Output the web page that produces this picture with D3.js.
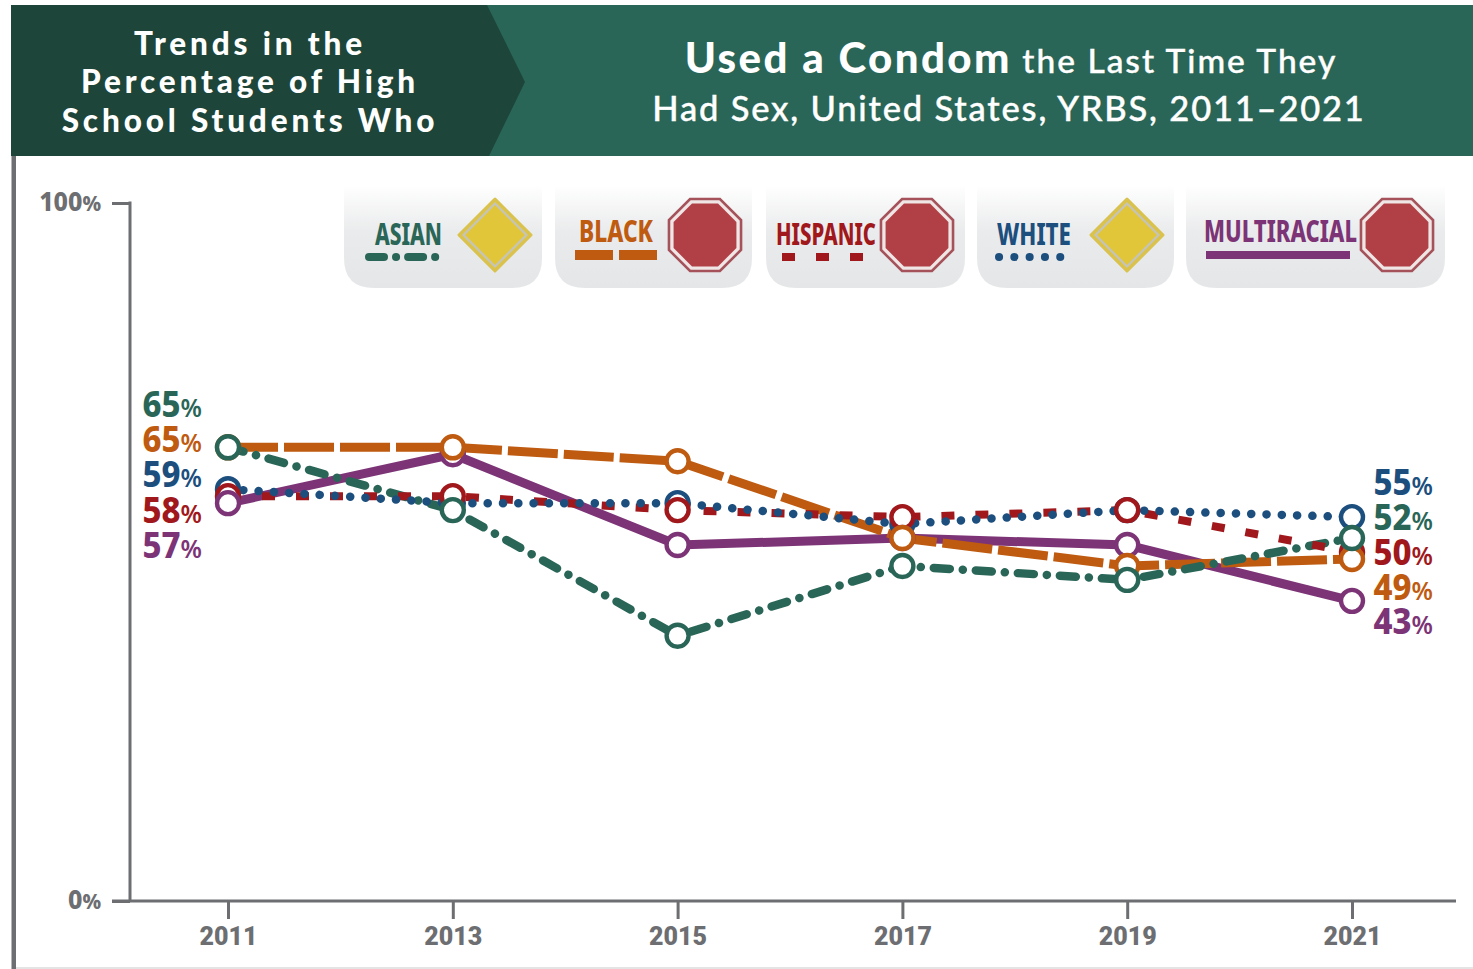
<!DOCTYPE html>
<html><head><meta charset="utf-8">
<script src="https://cdn.jsdelivr.net/npm/d3@7"></script>
<style>html,body{margin:0;padding:0;background:#fff;overflow:hidden}svg{display:block}</style>
</head><body><svg id="c" width="1473" height="969"></svg>
<script>
const years = [2011, 2013, 2015, 2017, 2019, 2021];
const asian = [65, 56, 38, 48, 46, 52];
const black = [65, 65, 63, 52, 48, 49];
const hispanic = [58, 58, 56, 55, 56, 50];
const white = [59, 57, 57, 54, 56, 55];
const multiracial = [57, 64, 51, 52, 51, 43];
const seriesNames = ["WHITE", "HISPANIC", "MULTIRACIAL", "BLACK", "ASIAN"];
const seriesValues = [white, hispanic, multiracial, black, asian];
const legendNames = ["ASIAN", "BLACK", "HISPANIC", "WHITE", "MULTIRACIAL"];
const legendSigns = ["diamond", "stop", "stop", "diamond", "stop"];
const leftOrder = ["ASIAN", "BLACK", "WHITE", "HISPANIC", "MULTIRACIAL"];
const rightOrder = ["WHITE", "ASIAN", "HISPANIC", "BLACK", "MULTIRACIAL"];

const color = {ASIAN:"#2a6657", BLACK:"#bf5b10", HISPANIC:"#a0181c", WHITE:"#1c4f7e", MULTIRACIAL:"#7c3476"};
const style = {
  ASIAN:{dash:"16 13 0.1 13",cap:"round",w:8.5},
  BLACK:{dash:"50 6",cap:"butt",w:9},
  HISPANIC:{dash:"13 21",cap:"butt",w:8},
  WHITE:{dash:"0.1 15.2",cap:"round",w:8.5},
  MULTIRACIAL:{dash:null,cap:"butt",w:9}
};
const gray = "#6d6e71";
const sans = "'Noto Sans','Open Sans',sans-serif";
const svg = d3.select("#c");
const defs = svg.append("defs");
const grad = defs.append("linearGradient").attr("id","panel").attr("x1",0).attr("x2",0).attr("y1",0).attr("y2",1);
grad.append("stop").attr("offset",0).attr("stop-color","#ffffff");
grad.append("stop").attr("offset",.45).attr("stop-color","#eaebec");
grad.append("stop").attr("offset",1).attr("stop-color","#e5e6e7");

// header
svg.append("rect").attr("x",11).attr("y",5).attr("width",1462).attr("height",151).attr("fill","#2a6657");
svg.append("path").attr("d","M11,5H487L525,82L489,156H11Z").attr("fill","#1d4539");
const hl = svg.append("g").attr("fill","#fff").attr("font-family","Lato,sans-serif").attr("font-weight",900).attr("text-anchor","middle").attr("font-size",31.5).attr("letter-spacing",3.85);
["Trends in the","Percentage of High","School Students Who"].forEach((t,i)=>hl.append("text").attr("x",250).attr("y",[55,93,132][i]).text(t));
const t1 = svg.append("text").attr("x",1011).attr("y",73).attr("text-anchor","middle").attr("fill","#fff").attr("font-family","Lato,sans-serif").attr("letter-spacing",2);
t1.append("tspan").attr("font-size",42).attr("font-weight",900).attr("letter-spacing",2.4).text("Used a Condom");
t1.append("tspan").attr("font-size",33.5).attr("font-weight",500).attr("stroke","#fff").attr("stroke-width",.4).text(" the Last Time They");
svg.append("text").attr("x",1009).attr("y",121).attr("text-anchor","middle").attr("fill","#fff").attr("stroke","#fff").attr("stroke-width",.4).attr("font-family","Lato,sans-serif").attr("font-size",34.5).attr("font-weight",500).attr("letter-spacing",1.8).text("Had Sex, United States, YRBS, 2011\u20132021");

// frame
svg.append("rect").attr("x",11.5).attr("y",156).attr("width",4.5).attr("height",813).attr("fill",gray);
svg.append("rect").attr("x",16).attr("y",967).attr("width",1457).attr("height",2).attr("fill","#e4e4e4");

// scales
const x = d3.scaleLinear().domain([2011,2021]).range([228,1352]);
const y = d3.scaleLinear().domain([0,100]).range([901,203]);

// axes
const gx = svg.append("g").attr("transform",`translate(0,${y(0)})`)
  .call(d3.axisBottom(x).tickValues(years).tickFormat(d3.format("d")).tickSize(18).tickSizeOuter(0));
gx.select(".domain").remove();
gx.selectAll("line").attr("stroke",gray).attr("stroke-width",3);
gx.selectAll("text").attr("fill",gray).attr("font-family","Roboto,sans-serif").attr("font-weight",900).attr("font-size",25).attr("dy",0).attr("y",44);
const gy = svg.append("g").attr("transform","translate(130,0)")
  .call(d3.axisLeft(y).tickValues([0,100]).tickFormat("").tickSize(18).tickSizeOuter(0));
gy.select(".domain").attr("d",`M0,${y(100)-1.5}V${y(0)}`).attr("stroke",gray).attr("stroke-width",3).attr("fill","none");
gy.selectAll("line").attr("stroke",gray).attr("stroke-width",3);
svg.append("line").attr("x1",112).attr("x2",1456).attr("y1",y(0)).attr("y2",y(0)).attr("stroke",gray).attr("stroke-width",3);
[[100,"100"],[0,"0"]].forEach(([v,s])=>{
  const t = svg.append("text").attr("transform",`translate(101,${y(v)+8}) scale(.96,1)`).attr("text-anchor","end").attr("fill",gray).attr("font-family",sans).attr("font-weight",800);
  t.append("tspan").attr("font-size",26).text(s);
  t.append("tspan").attr("font-size",21).text("%");
});

// legend
const panels = {ASIAN:[344,542],BLACK:[555,752],HISPANIC:[766,965],WHITE:[977,1174],MULTIRACIAL:[1186,1445]};
const signX = {ASIAN:495,BLACK:705,HISPANIC:917,WHITE:1127,MULTIRACIAL:1397};
const labelLayout = {ASIAN:[375,442,245],BLACK:[579,653,242],HISPANIC:[776,876,245],WHITE:[997,1071,245],MULTIRACIAL:[1204,1357,242]};
const keyLayout = {ASIAN:[369,442,"15 12 .1 12"],BLACK:[575,659,"38 6"],HISPANIC:[782,866,"13 21"],WHITE:[999,1064,".1 15.2"],MULTIRACIAL:[1206,1350,null]};
legendNames.forEach((n,i)=>{
  const [a,b] = panels[n], yt = 185, yb = 288, r = 30;
  svg.append("path").attr("d",`M${a},${yt}H${b}V${yb-r}Q${b},${yb} ${b-r},${yb}H${a+r}Q${a},${yb} ${a},${yb-r}Z`).attr("fill","url(#panel)");
  const [lx,rx,by] = labelLayout[n];
  svg.append("text").attr("x",lx).attr("y",by).attr("fill",color[n]).attr("font-family",sans).attr("font-weight",800).attr("font-size",31)
    .attr("textLength",rx-lx).attr("lengthAdjust","spacingAndGlyphs").text(n);
  const [k1,k2,kd] = keyLayout[n];
  const ky = n==="BLACK"||n==="MULTIRACIAL"?255:257;
  svg.append("line").attr("x1",k1).attr("x2",k2).attr("y1",ky).attr("y2",ky)
    .attr("stroke",color[n]).attr("stroke-width",n==="BLACK"?10:8)
    .attr("stroke-linecap",style[n].cap).attr("stroke-dasharray",kd);
  const cx = signX[n], cy = 235;
  if (legendSigns[i]==="diamond") {
    const pts = R=>`${cx},${cy-R} ${cx+R},${cy} ${cx},${cy+R} ${cx-R},${cy}`;
    svg.append("polygon").attr("points",pts(36)).attr("fill","#e2c63a").attr("stroke","#d9c24e").attr("stroke-width",3).attr("stroke-linejoin","round");
    svg.append("polygon").attr("points",pts(31.5)).attr("fill","#e2c63a").attr("stroke","#c4c4bc").attr("stroke-width",2.2);
  } else {
    const pts = R=>d3.range(8).map(k=>{const ang=Math.PI/8+k*Math.PI/4;return [cx+R*Math.cos(ang),cy+R*Math.sin(ang)].join(",");}).join(" ");
    svg.append("polygon").attr("points",pts(39)).attr("fill","#f0e6e6").attr("stroke","#a5525a").attr("stroke-width",2.6);
    svg.append("polygon").attr("points",pts(34)).attr("fill","#b04046");
  }
});

// lines
const line = d3.line().x((d,i)=>x(years[i])).y(d=>y(d));
const drawOrder = ["MULTIRACIAL","BLACK","ASIAN","HISPANIC","WHITE"];
drawOrder.forEach(n=>{
  const s = style[n];
  svg.append("path").datum(seriesValues[seriesNames.indexOf(n)]).attr("d",line).attr("fill","none")
    .attr("stroke",color[n]).attr("stroke-width",s.w).attr("stroke-linecap",s.cap).attr("stroke-dasharray",s.dash);
});
seriesNames.forEach((n,j)=>{
  svg.append("g").selectAll("circle").data(seriesValues[j]).join("circle")
    .attr("cx",(d,i)=>x(years[i])).attr("cy",d=>y(d)).attr("r",11)
    .attr("fill","#fff").attr("stroke",color[n]).attr("stroke-width",4.4);
});

// end labels
function endLabels(order, idx, px, ys){
  order.forEach((n,i)=>{
    const v = seriesValues[seriesNames.indexOf(n)][idx];
    const t = svg.append("text").attr("transform",`translate(${px},${ys[i]}) scale(.94,1)`).attr("text-anchor","end").attr("fill",color[n]).attr("font-family",sans).attr("font-weight",800);
    t.append("tspan").attr("font-size",35).text(v);
    t.append("tspan").attr("font-size",26).attr("font-weight",600).text("%");
  });
}
endLabels(leftOrder,0,202,[417,452,487,523,558]);
endLabels(rightOrder,5,1433,[495,530,565,600,634]);
</script></body></html>
